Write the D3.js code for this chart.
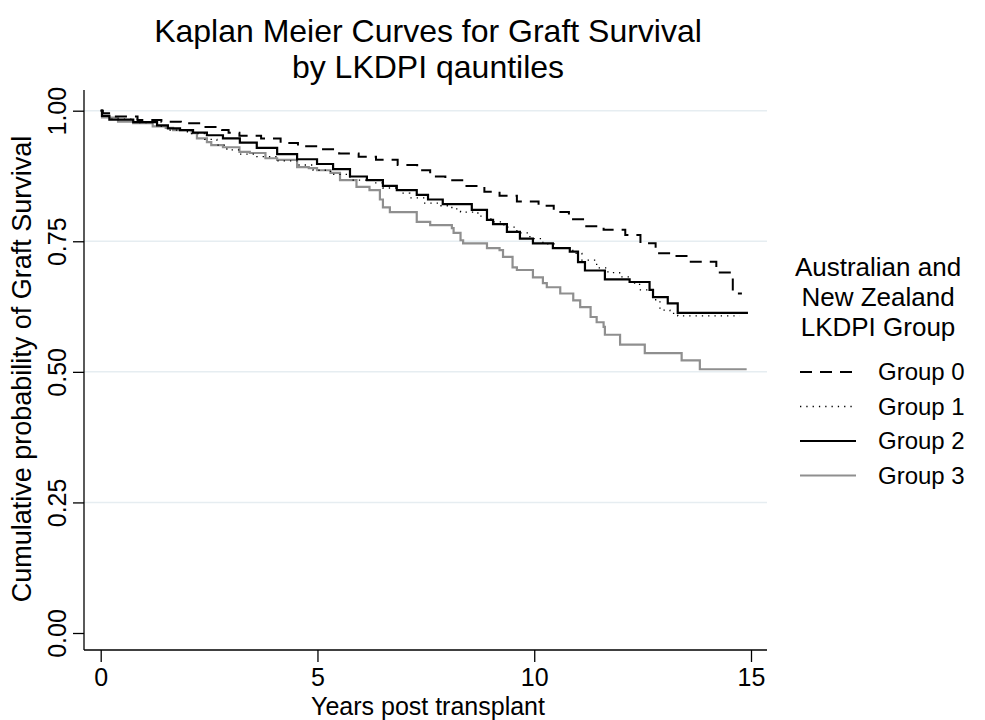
<!DOCTYPE html>
<html>
<head>
<meta charset="utf-8">
<script src="https://cdn.jsdelivr.net/npm/d3@7"></script>
<style>
  html, body { margin: 0; padding: 0; background: #fff; }
  svg { display: block; font-family: "Liberation Sans", Arial, Helvetica, sans-serif; }
</style>
</head>
<body>
<svg id="chart" width="985" height="720"></svg>
<script>
// Kaplan-Meier step estimates: [years, survival] at each drop
const group0 = [
  [0, 1.000], [0.05, 0.995], [0.35, 0.989], [0.85, 0.982], [1.40, 0.979], [1.85, 0.976],
  [2.30, 0.969], [2.80, 0.963], [2.95, 0.958], [3.20, 0.952], [3.70, 0.947], [4.15, 0.938],
  [4.55, 0.932], [5.00, 0.926], [5.50, 0.918], [5.95, 0.912], [6.35, 0.906], [6.85, 0.896],
  [7.30, 0.886], [7.60, 0.874], [7.95, 0.867], [8.40, 0.856], [8.85, 0.845], [9.20, 0.837],
  [9.60, 0.826], [10.10, 0.818], [10.45, 0.806], [10.80, 0.792], [11.15, 0.779], [11.60, 0.772],
  [12.10, 0.762], [12.45, 0.746], [12.80, 0.727], [13.15, 0.722], [13.55, 0.711], [14.20, 0.690],
  [14.58, 0.650], [14.79, 0.650]
];
const group1 = [
  [0, 1.000], [0.03, 0.990], [0.20, 0.984], [0.90, 0.977], [1.30, 0.970], [1.60, 0.963],
  [2.00, 0.956], [2.40, 0.945], [2.68, 0.934], [2.91, 0.925], [3.21, 0.917], [3.60, 0.912],
  [4.07, 0.904], [4.53, 0.896], [4.90, 0.886], [5.30, 0.878], [5.75, 0.867], [6.28, 0.862],
  [6.51, 0.852], [6.90, 0.842], [7.13, 0.833], [7.45, 0.823], [7.80, 0.818], [8.10, 0.812],
  [8.30, 0.806], [8.70, 0.798], [9.00, 0.787], [9.30, 0.777], [9.60, 0.766], [9.90, 0.755],
  [10.20, 0.745], [10.50, 0.737], [10.89, 0.727], [11.10, 0.714], [11.44, 0.699], [11.70, 0.690],
  [11.97, 0.682], [12.20, 0.670], [12.43, 0.657], [12.74, 0.638], [12.90, 0.618], [13.13, 0.612],
  [13.31, 0.607], [14.74, 0.607]
];
const group2 = [
  [0, 1.000], [0.03, 0.990], [0.20, 0.983], [0.75, 0.978], [1.30, 0.972], [1.55, 0.966],
  [1.83, 0.963], [2.13, 0.958], [2.45, 0.953], [2.82, 0.947], [3.21, 0.939], [3.60, 0.929],
  [4.07, 0.917], [4.53, 0.907], [4.99, 0.898], [5.36, 0.888], [5.75, 0.874], [6.14, 0.867],
  [6.51, 0.856], [6.83, 0.848], [7.29, 0.839], [7.55, 0.830], [7.89, 0.821], [8.56, 0.810],
  [8.91, 0.791], [9.05, 0.783], [9.37, 0.768], [9.67, 0.755], [9.97, 0.746], [10.43, 0.737],
  [10.82, 0.730], [11.01, 0.710], [11.17, 0.694], [11.63, 0.677], [12.20, 0.672], [12.66, 0.657],
  [12.74, 0.643], [13.08, 0.631], [13.31, 0.613], [14.93, 0.613]
];
const group3 = [
  [0, 1.000], [0.03, 0.987], [0.40, 0.979], [0.75, 0.976], [1.20, 0.970], [1.50, 0.967],
  [1.67, 0.963], [2.10, 0.957], [2.22, 0.947], [2.45, 0.940], [2.55, 0.934], [2.82, 0.930],
  [3.20, 0.921], [3.44, 0.919], [3.80, 0.909], [4.07, 0.906], [4.53, 0.892], [4.80, 0.890],
  [4.99, 0.886], [5.30, 0.881], [5.52, 0.867], [5.90, 0.854], [6.20, 0.848], [6.44, 0.830],
  [6.51, 0.815], [6.67, 0.806], [7.29, 0.787], [7.60, 0.781], [8.10, 0.775], [8.14, 0.766],
  [8.30, 0.752], [8.36, 0.746], [8.91, 0.737], [9.20, 0.733], [9.28, 0.720], [9.50, 0.700],
  [9.60, 0.695], [9.97, 0.681], [10.20, 0.670], [10.29, 0.662], [10.60, 0.650], [10.90, 0.637],
  [11.06, 0.624], [11.30, 0.605], [11.44, 0.595], [11.60, 0.586], [11.63, 0.571], [11.98, 0.552],
  [12.55, 0.536], [13.40, 0.522], [13.82, 0.505], [14.90, 0.505]
];

const groupNames = ["Group 0", "Group 1", "Group 2", "Group 3"];
const xTicks = [0, 5, 10, 15];
const yTicks = [0, 0.25, 0.5, 0.75, 1];
const yGrid = [0.25, 0.5, 0.75, 1];
const titleLines = ["Kaplan Meier Curves for Graft Survival", "by LKDPI qauntiles"];
const legendTitle = ["Australian and", "New Zealand", "LKDPI Group"];
const xLabel = "Years post transplant";
const yLabel = "Cumulative probability of Graft Survival";

const styles = [
  { stroke: "#000", width: 2, dash: "12,8" },
  { stroke: "#000", width: 1.3, dash: "1.3,5" },
  { stroke: "#000", width: 2.2, dash: null },
  { stroke: "#8f8f8f", width: 2.2, dash: null }
];
const series = [group0, group1, group2, group3];

const svg = d3.select("#chart");

// Plot frame
const axisLeftX = 84, axisBottomY = 650, plotRight = 767, plotTop = 90;
const x = d3.scaleLinear().domain([0, 15]).range([100.7, 751]);
const y = d3.scaleLinear().domain([0, 1]).range([633, 110.7]);

// Gridlines
svg.append("g").selectAll("line").data(yGrid).join("line")
  .attr("x1", axisLeftX).attr("x2", plotRight)
  .attr("y1", d => y(d)).attr("y2", d => y(d))
  .attr("stroke", "#e6edf1").attr("stroke-width", 1.5);

// Y axis
const yAxis = d3.axisLeft(y).tickValues(yTicks).tickFormat(d3.format(".2f"))
  .tickSize(11).tickPadding(0);
const gy = svg.append("g").attr("transform", `translate(${axisLeftX},0)`).call(yAxis);
gy.select(".domain").remove();
gy.selectAll(".tick line").attr("stroke", "#000").attr("stroke-width", 1.3);
gy.selectAll(".tick text")
  .attr("transform", "translate(-18,0) rotate(-90)")
  .attr("x", 0).attr("y", 0).attr("dy", 0)
  .attr("text-anchor", "middle")
  .attr("font-size", 25).attr("fill", "#000");
svg.append("line")
  .attr("x1", axisLeftX).attr("x2", axisLeftX)
  .attr("y1", plotTop).attr("y2", axisBottomY)
  .attr("stroke", "#000").attr("stroke-width", 1.3);

// X axis
const xAxis = d3.axisBottom(x).tickValues(xTicks).tickFormat(d3.format("d"))
  .tickSize(12).tickPadding(0);
const gx = svg.append("g").attr("transform", `translate(0,${axisBottomY})`).call(xAxis);
gx.select(".domain").remove();
gx.selectAll(".tick line").attr("stroke", "#000").attr("stroke-width", 1.3);
gx.selectAll(".tick text")
  .attr("y", 36).attr("dy", 0)
  .attr("font-size", 25).attr("fill", "#000");
svg.append("line")
  .attr("x1", axisLeftX).attr("x2", plotRight)
  .attr("y1", axisBottomY).attr("y2", axisBottomY)
  .attr("stroke", "#000").attr("stroke-width", 1.3);

// Survival curves
const line = d3.line().x(d => x(d[0])).y(d => y(d[1])).curve(d3.curveStepAfter);
// grey first, black curves over it
[3, 0, 1, 2].forEach(i => {
  svg.append("path")
    .datum(series[i])
    .attr("d", line)
    .attr("fill", "none")
    .attr("stroke", styles[i].stroke)
    .attr("stroke-width", styles[i].width)
    .attr("stroke-dasharray", styles[i].dash)
    .attr("stroke-linejoin", "miter");
});

// Axis titles
svg.append("text")
  .attr("x", 428).attr("y", 714.5)
  .attr("text-anchor", "middle").attr("font-size", 25)
  .text(xLabel);
svg.append("text")
  .attr("transform", "translate(31,369) rotate(-90)")
  .attr("text-anchor", "middle").attr("font-size", 27)
  .text(yLabel);

// Title, two lines
svg.append("g").selectAll("text").data(titleLines).join("text")
  .attr("x", 428)
  .attr("y", (d, i) => 42 + i * 36)
  .attr("text-anchor", "middle").attr("font-size", 32)
  .text(d => d);

// Legend
const legend = svg.append("g");
legend.selectAll("text.lt").data(legendTitle).join("text")
  .attr("class", "lt")
  .attr("x", 878).attr("y", (d, i) => 276 + i * 30)
  .attr("text-anchor", "middle").attr("font-size", 26)
  .text(d => d);
const items = legend.selectAll("g.item").data(groupNames).join("g")
  .attr("class", "item")
  .attr("transform", (d, i) => `translate(0,${372 + i * 34.5})`);
items.append("line")
  .attr("x1", 800).attr("x2", 856).attr("y1", 0).attr("y2", 0)
  .attr("stroke", (d, i) => styles[i].stroke)
  .attr("stroke-width", (d, i) => styles[i].width)
  .attr("stroke-dasharray", (d, i) => styles[i].dash);
items.append("text")
  .attr("x", 878).attr("y", 0).attr("dy", "0.35em")
  .attr("font-size", 24)
  .text(d => d);
</script>
</body>
</html>
